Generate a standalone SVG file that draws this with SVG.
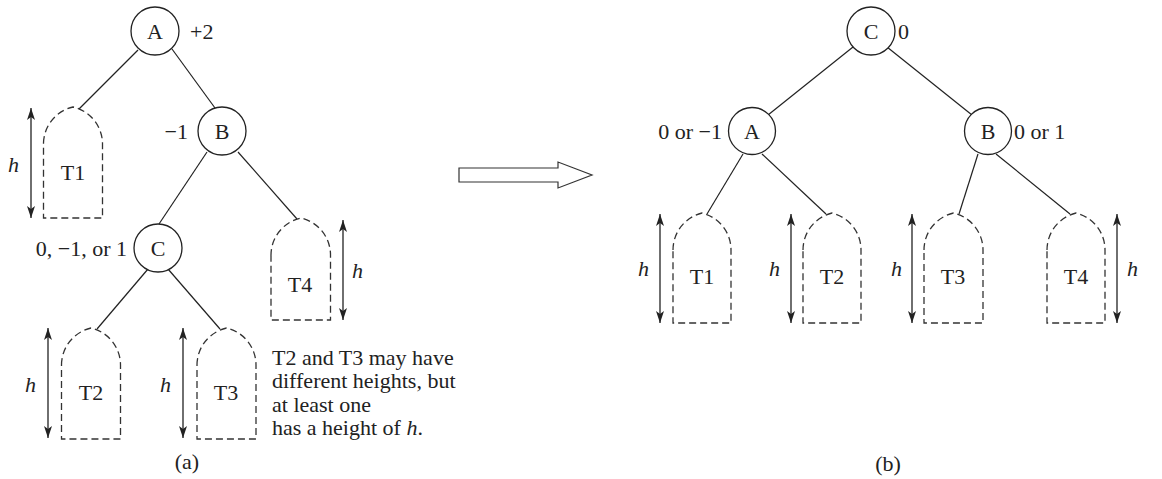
<svg xmlns="http://www.w3.org/2000/svg" width="1162" height="479" viewBox="0 0 1162 479">
<style>
text{font-family:"Liberation Serif","Times New Roman",serif;font-size:22px;fill:#222}
.i{font-style:italic}
.m{text-anchor:middle}
.e{text-anchor:end}
.node circle{fill:#fff;stroke:#222;stroke-width:1.3}
.tree path{fill:none;stroke:#333;stroke-width:1.3;stroke-dasharray:7 4}
.edge line{stroke:#222;stroke-width:1.2}
.ha{stroke:#222;stroke-width:1.3;marker-start:url(#ah);marker-end:url(#ah)}
</style>
<defs>
<marker id="ah" markerUnits="userSpaceOnUse" markerWidth="13" markerHeight="9" refX="12" refY="4.5" orient="auto-start-reverse">
<path d="M0,0.5 L12,4.5 L0,8.5 L3,4.5 Z" fill="#222"/>
</marker>
</defs>
<rect width="1162" height="479" fill="#fff"/>

<g id="connectors" class="edge">
<line x1="138" y1="50" x2="79" y2="109"/>
<line x1="172" y1="49" x2="215" y2="108"/>
<line x1="207" y1="152" x2="159" y2="224"/>
<line x1="238" y1="152" x2="297" y2="219"/>
<line x1="148" y1="269" x2="97" y2="329"/>
<line x1="168" y1="269" x2="220" y2="329"/>
<line x1="853" y1="47" x2="768" y2="115"/>
<line x1="887" y1="47" x2="972" y2="115"/>
<line x1="743" y1="154" x2="707" y2="214"/>
<line x1="762" y1="154" x2="826" y2="214"/>
<line x1="978" y1="154" x2="959" y2="214"/>
<line x1="996" y1="154" x2="1070" y2="214"/>
<polygon points="459,168 558,168 558,162 592,175 558,188 558,182 459,182" fill="#fff" stroke="#333" stroke-width="1.2"/>
</g>

<g id="a-A" class="node"><circle cx="155" cy="31" r="24"/><text x="155" y="39" class="m">A</text><text x="190" y="39">+2</text></g>
<g id="a-B" class="node"><circle cx="222" cy="131" r="24"/><text x="222" y="139" class="m">B</text><text x="188" y="139" class="e">−1</text></g>
<g id="a-C" class="node"><circle cx="158" cy="248" r="24"/><text x="158" y="256" class="m">C</text><text x="127" y="256" class="e">0, −1, or 1</text></g>

<g id="a-T1" class="tree"><path d="M43.5,143 A38 38 0 0 1 73,107 A38 38 0 0 1 102.5,143 L102.5,218 L43.5,218 Z"/><text x="73" y="180" class="m">T1</text><line class="ha" x1="31" y1="108" x2="31" y2="218"/><text x="8" y="172" class="i">h</text></g>
<g id="a-T2" class="tree"><path d="M61.5,365 A38 38 0 0 1 91,328 A38 38 0 0 1 120.5,365 L120.5,439 L61.5,439 Z"/><text x="91" y="400" class="m">T2</text><line class="ha" x1="48" y1="328" x2="48" y2="438"/><text x="25" y="392" class="i">h</text></g>
<g id="a-T3" class="tree"><path d="M197,365 A38 38 0 0 1 226.5,328 A38 38 0 0 1 256,365 L256,439 L197,439 Z"/><text x="226" y="400" class="m">T3</text><line class="ha" x1="183" y1="328" x2="183" y2="438"/><text x="160" y="392" class="i">h</text></g>
<g id="a-T4" class="tree"><path d="M271,256 A38 38 0 0 1 301,218 A38 38 0 0 1 330.5,256 L330.5,320 L271,320 Z"/><text x="300" y="292" class="m">T4</text><line class="ha" x1="343" y1="220" x2="343" y2="320"/><text x="352" y="278" class="i">h</text></g>

<g id="note">
<text x="272" y="365">T2 and T3 may have</text>
<text x="272" y="388">different heights, but</text>
<text x="272" y="412">at least one</text>
<text x="272" y="435">has a height of <tspan class="i">h</tspan>.</text>
</g>
<text x="187" y="469" class="m">(a)</text>

<g id="b-C" class="node"><circle cx="871" cy="31" r="24"/><text x="871" y="39" class="m">C</text><text x="898" y="39">0</text></g>
<g id="b-A" class="node"><circle cx="752" cy="131" r="23.5"/><text x="752" y="139" class="m">A</text><text x="722" y="139" class="e">0 or −1</text></g>
<g id="b-B" class="node"><circle cx="988" cy="131" r="23.5"/><text x="988" y="139" class="m">B</text><text x="1014" y="139">0 or 1</text></g>

<g id="b-T1" class="tree"><path d="M673,250 A38 38 0 0 1 702,213 A38 38 0 0 1 731,250 L731,323 L673,323 Z"/><text x="702" y="284" class="m">T1</text><line class="ha" x1="660" y1="214" x2="660" y2="323"/><text x="638" y="276" class="i">h</text></g>
<g id="b-T2" class="tree"><path d="M803,250 A38 38 0 0 1 832,213 A38 38 0 0 1 861,250 L861,323 L803,323 Z"/><text x="832" y="284" class="m">T2</text><line class="ha" x1="791" y1="214" x2="791" y2="323"/><text x="769" y="276" class="i">h</text></g>
<g id="b-T3" class="tree"><path d="M924,250 A38 38 0 0 1 953.5,213 A38 38 0 0 1 983,250 L983,323 L924,323 Z"/><text x="953" y="284" class="m">T3</text><line class="ha" x1="912" y1="214" x2="912" y2="323"/><text x="891" y="276" class="i">h</text></g>
<g id="b-T4" class="tree"><path d="M1047,250 A38 38 0 0 1 1076,213 A38 38 0 0 1 1105,250 L1105,323 L1047,323 Z"/><text x="1076" y="284" class="m">T4</text><line class="ha" x1="1117" y1="214" x2="1117" y2="323"/><text x="1127" y="276" class="i">h</text></g>
<text x="888" y="471" class="m">(b)</text>
</svg>
